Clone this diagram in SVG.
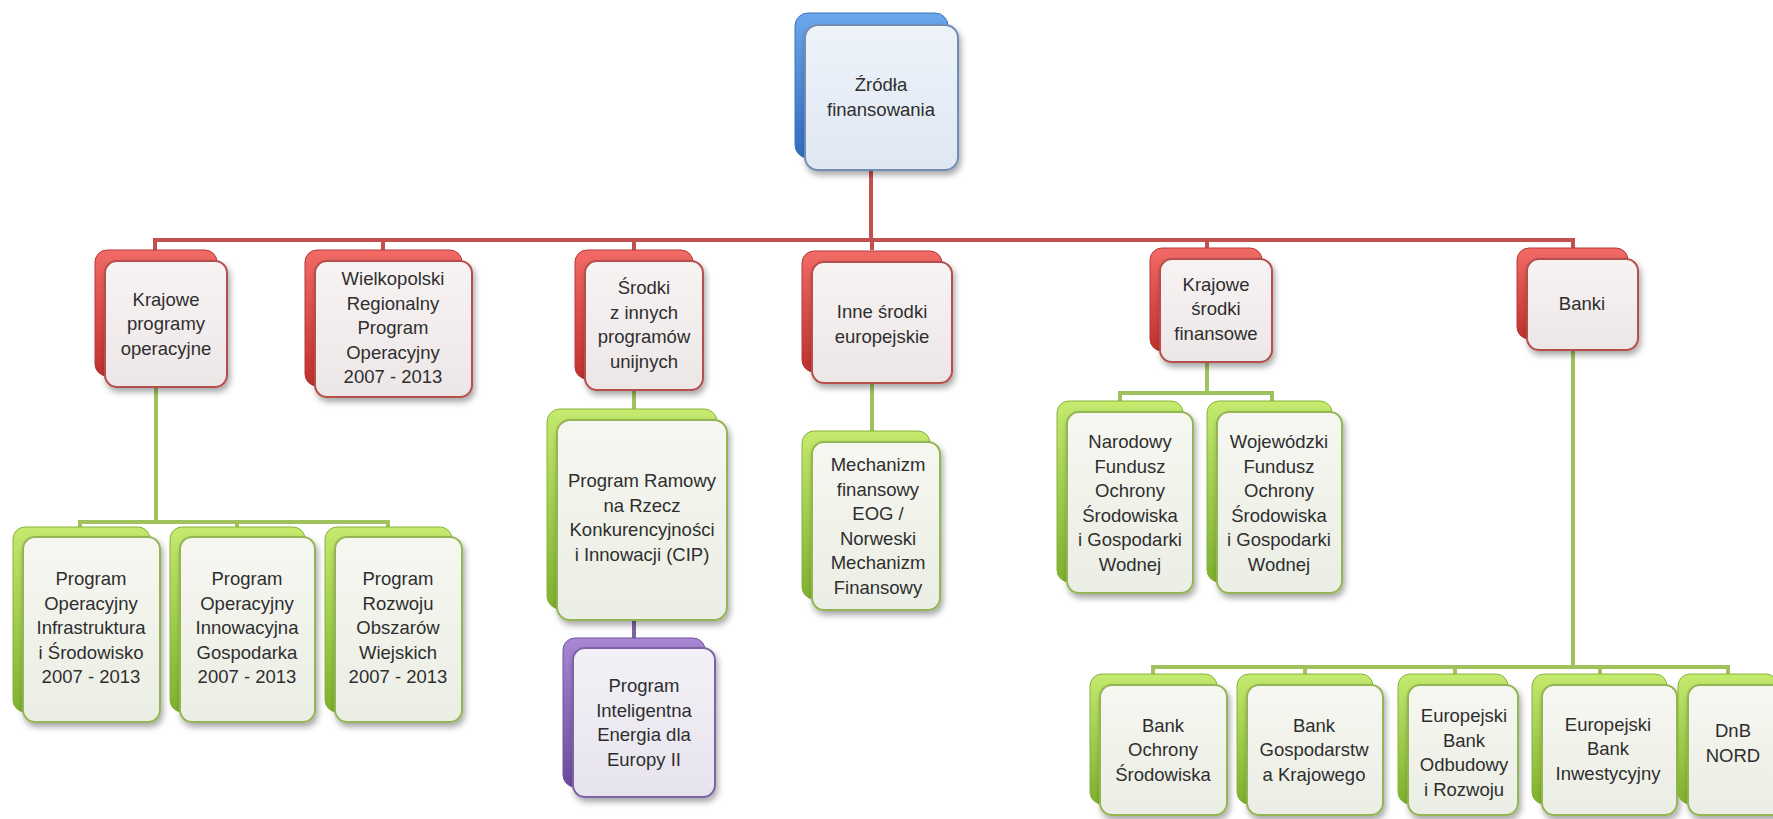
<svg xmlns="http://www.w3.org/2000/svg" width="1773" height="819" viewBox="0 0 1773 819">
<defs>
<linearGradient id="gRed" x1="0" y1="0" x2="0" y2="1"><stop offset="0" stop-color="#f26a66"/><stop offset="1" stop-color="#c0302e"/></linearGradient>
<linearGradient id="gGreen" x1="0" y1="0" x2="0" y2="1"><stop offset="0" stop-color="#c4ea6e"/><stop offset="1" stop-color="#7fb02e"/></linearGradient>
<linearGradient id="gBlue" x1="0" y1="0" x2="0" y2="1"><stop offset="0" stop-color="#6aa8ea"/><stop offset="1" stop-color="#2f6cbc"/></linearGradient>
<linearGradient id="gPurple" x1="0" y1="0" x2="0" y2="1"><stop offset="0" stop-color="#a888d4"/><stop offset="1" stop-color="#6a4a9c"/></linearGradient>
<linearGradient id="fRed" x1="0" y1="0" x2="0" y2="1"><stop offset="0" stop-color="#f8f3f3"/><stop offset="1" stop-color="#ede6e6"/></linearGradient>
<linearGradient id="fGreen" x1="0" y1="0" x2="0" y2="1"><stop offset="0" stop-color="#f6f7f1"/><stop offset="1" stop-color="#ebeee4"/></linearGradient>
<linearGradient id="fBlue" x1="0" y1="0" x2="0" y2="1"><stop offset="0" stop-color="#eef3fa"/><stop offset="1" stop-color="#dfe7f2"/></linearGradient>
<linearGradient id="fPurple" x1="0" y1="0" x2="0" y2="1"><stop offset="0" stop-color="#f3f1f7"/><stop offset="1" stop-color="#e7e3ee"/></linearGradient>
<filter id="sh" x="-15%" y="-15%" width="135%" height="135%"><feDropShadow dx="2" dy="4" stdDeviation="3" flood-color="#000" flood-opacity="0.35"/></filter>
</defs>
<style>
.back{stroke-width:1}
.front{stroke-width:2;filter:url(#sh)}
.red .back{fill:url(#gRed);stroke:#b03a38}
.red .front{fill:url(#fRed);stroke:#b5504c}
.green .back{fill:url(#gGreen);stroke:#86b23c}
.green .front{fill:url(#fGreen);stroke:#93b552}
.blue .back{fill:url(#gBlue);stroke:#3a74c0}
.blue .front{fill:url(#fBlue);stroke:#6f8db5}
.purple .back{fill:url(#gPurple);stroke:#6e52a0}
.purple .front{fill:url(#fPurple);stroke:#7d64a4}
text{font-family:"Liberation Sans",Arial,sans-serif;font-size:18.5px;fill:#2e2e2e;text-anchor:middle}
.c{fill:none;stroke-width:4;stroke-linejoin:miter}
.cr{stroke:#c4504e}
.cg{stroke:#9fc25c}
.cp{stroke:#8064a2}
</style>

<g id="connectors">
<path class="c cr" d="M871 170V240M155 250V240H1573V250M383 240V250M634 240V250M872 240V250M1207 240V250"/>
<path class="c cg" d="M156 387V522M80 527V522H388V527M237 522V527"/>
<path class="c cg" d="M634 390V409"/>
<path class="c cp" d="M634 620V638"/>
<path class="c cg" d="M872 383V431"/>
<path class="c cg" d="M1207 362V393M1120 401V393H1272V401"/>
<path class="c cg" d="M1573 350V667M1153 674V667H1728V674M1305 667V674M1455 667V674M1600 667V674"/>
</g>

<g id="n-root" class="blue">
<rect class="back" x="795" y="13" width="153" height="145" rx="13"/>
<rect class="front" x="805" y="25" width="153" height="145" rx="13"/>
<text x="881" y="91">Źródła<tspan x="881" dy="24.5">finansowania</tspan></text>
</g>

<g id="n-krajowe-programy" class="red">
<rect class="back" x="95" y="250" width="122" height="126" rx="12"/>
<rect class="front" x="105" y="261" width="122" height="126" rx="12"/>
<text x="166" y="305.5">Krajowe<tspan x="166" dy="24.5">programy</tspan><tspan x="166" dy="24.5">operacyjne</tspan></text>
</g>

<g id="n-wielkopolski" class="red">
<rect class="back" x="305" y="250" width="157" height="136" rx="12"/>
<rect class="front" x="315" y="261" width="157" height="136" rx="12"/>
<text x="393" y="285">Wielkopolski<tspan x="393" dy="24.5">Regionalny</tspan><tspan x="393" dy="24.5">Program</tspan><tspan x="393" dy="24.5">Operacyjny</tspan><tspan x="393" dy="24.5">2007 - 2013</tspan></text>
</g>

<g id="n-srodki-unijne" class="red">
<rect class="back" x="575" y="250" width="118" height="129" rx="12"/>
<rect class="front" x="585" y="261" width="118" height="129" rx="12"/>
<text x="644" y="294">Środki<tspan x="644" dy="24.5">z innych</tspan><tspan x="644" dy="24.5">programów</tspan><tspan x="644" dy="24.5">unijnych</tspan></text>
</g>

<g id="n-inne-europejskie" class="red">
<rect class="back" x="802" y="251" width="140" height="121" rx="12"/>
<rect class="front" x="812" y="262" width="140" height="121" rx="12"/>
<text x="882" y="318">Inne środki<tspan x="882" dy="24.5">europejskie</tspan></text>
</g>

<g id="n-krajowe-srodki" class="red">
<rect class="back" x="1150" y="248" width="112" height="103" rx="12"/>
<rect class="front" x="1160" y="259" width="112" height="103" rx="12"/>
<text x="1216" y="290.5">Krajowe<tspan x="1216" dy="24.5">środki</tspan><tspan x="1216" dy="24.5">finansowe</tspan></text>
</g>

<g id="n-banki" class="red">
<rect class="back" x="1517" y="248" width="111" height="91" rx="12"/>
<rect class="front" x="1527" y="259" width="111" height="91" rx="12"/>
<text x="1582" y="310">Banki</text>
</g>

<g id="n-po-iis" class="green">
<rect class="back" x="13" y="527" width="137" height="185" rx="12"/>
<rect class="front" x="23" y="537" width="137" height="185" rx="12"/>
<text x="91" y="585">Program<tspan x="91" dy="24.5">Operacyjny</tspan><tspan x="91" dy="24.5">Infrastruktura</tspan><tspan x="91" dy="24.5">i Środowisko</tspan><tspan x="91" dy="24.5">2007 - 2013</tspan></text>
</g>

<g id="n-po-ig" class="green">
<rect class="back" x="170" y="527" width="135" height="185" rx="12"/>
<rect class="front" x="180" y="537" width="135" height="185" rx="12"/>
<text x="247" y="585">Program<tspan x="247" dy="24.5">Operacyjny</tspan><tspan x="247" dy="24.5">Innowacyjna</tspan><tspan x="247" dy="24.5">Gospodarka</tspan><tspan x="247" dy="24.5">2007 - 2013</tspan></text>
</g>

<g id="n-prow" class="green">
<rect class="back" x="325" y="527" width="127" height="185" rx="12"/>
<rect class="front" x="335" y="537" width="127" height="185" rx="12"/>
<text x="398" y="585">Program<tspan x="398" dy="24.5">Rozwoju</tspan><tspan x="398" dy="24.5">Obszarów</tspan><tspan x="398" dy="24.5">Wiejskich</tspan><tspan x="398" dy="24.5">2007 - 2013</tspan></text>
</g>

<g id="n-cip" class="green">
<rect class="back" x="547" y="409" width="170" height="200" rx="13"/>
<rect class="front" x="557" y="420" width="170" height="200" rx="13"/>
<text x="642" y="487">Program Ramowy<tspan x="642" dy="24.5">na Rzecz</tspan><tspan x="642" dy="24.5">Konkurencyjności</tspan><tspan x="642" dy="24.5">i Innowacji (CIP)</tspan></text>
</g>

<g id="n-iee" class="purple">
<rect class="back" x="563" y="638" width="142" height="149" rx="12"/>
<rect class="front" x="573" y="648" width="142" height="149" rx="12"/>
<text x="644" y="692">Program<tspan x="644" dy="24.5">Inteligentna</tspan><tspan x="644" dy="24.5">Energia dla</tspan><tspan x="644" dy="24.5">Europy II</tspan></text>
</g>

<g id="n-eog" class="green">
<rect class="back" x="802" y="431" width="128" height="168" rx="12"/>
<rect class="front" x="812" y="442" width="128" height="168" rx="12"/>
<text x="878" y="471">Mechanizm<tspan x="878" dy="24.5">finansowy</tspan><tspan x="878" dy="24.5">EOG /</tspan><tspan x="878" dy="24.5">Norweski</tspan><tspan x="878" dy="24.5">Mechanizm</tspan><tspan x="878" dy="24.5">Finansowy</tspan></text>
</g>

<g id="n-nfosigw" class="green">
<rect class="back" x="1057" y="401" width="126" height="181" rx="12"/>
<rect class="front" x="1067" y="412" width="126" height="181" rx="12"/>
<text x="1130" y="448">Narodowy<tspan x="1130" dy="24.5">Fundusz</tspan><tspan x="1130" dy="24.5">Ochrony</tspan><tspan x="1130" dy="24.5">Środowiska</tspan><tspan x="1130" dy="24.5">i Gospodarki</tspan><tspan x="1130" dy="24.5">Wodnej</tspan></text>
</g>

<g id="n-wfosigw" class="green">
<rect class="back" x="1207" y="401" width="125" height="181" rx="12"/>
<rect class="front" x="1217" y="412" width="125" height="181" rx="12"/>
<text x="1279" y="448">Wojewódzki<tspan x="1279" dy="24.5">Fundusz</tspan><tspan x="1279" dy="24.5">Ochrony</tspan><tspan x="1279" dy="24.5">Środowiska</tspan><tspan x="1279" dy="24.5">i Gospodarki</tspan><tspan x="1279" dy="24.5">Wodnej</tspan></text>
</g>

<g id="n-bos" class="green">
<rect class="back" x="1090" y="674" width="127" height="130" rx="12"/>
<rect class="front" x="1100" y="685" width="127" height="130" rx="12"/>
<text x="1163" y="731.5">Bank<tspan x="1163" dy="24.5">Ochrony</tspan><tspan x="1163" dy="24.5">Środowiska</tspan></text>
</g>

<g id="n-bgk" class="green">
<rect class="back" x="1237" y="674" width="136" height="130" rx="12"/>
<rect class="front" x="1247" y="685" width="136" height="130" rx="12"/>
<text x="1314" y="731.5">Bank<tspan x="1314" dy="24.5">Gospodarstw</tspan><tspan x="1314" dy="24.5">a Krajowego</tspan></text>
</g>

<g id="n-ebor" class="green">
<rect class="back" x="1398" y="674" width="110" height="130" rx="12"/>
<rect class="front" x="1408" y="685" width="110" height="130" rx="12"/>
<text x="1464" y="722">Europejski<tspan x="1464" dy="24.5">Bank</tspan><tspan x="1464" dy="24.5">Odbudowy</tspan><tspan x="1464" dy="24.5">i Rozwoju</tspan></text>
</g>

<g id="n-ebi" class="green">
<rect class="back" x="1532" y="674" width="135" height="130" rx="12"/>
<rect class="front" x="1542" y="685" width="135" height="130" rx="12"/>
<text x="1608" y="730.5">Europejski<tspan x="1608" dy="24.5">Bank</tspan><tspan x="1608" dy="24.5">Inwestycyjny</tspan></text>
</g>

<g id="n-dnb" class="green">
<rect class="back" x="1678" y="674" width="100" height="130" rx="12"/>
<rect class="front" x="1688" y="685" width="100" height="130" rx="12"/>
<text x="1733" y="737">DnB<tspan x="1733" dy="24.5">NORD</tspan></text>
</g>
</svg>
